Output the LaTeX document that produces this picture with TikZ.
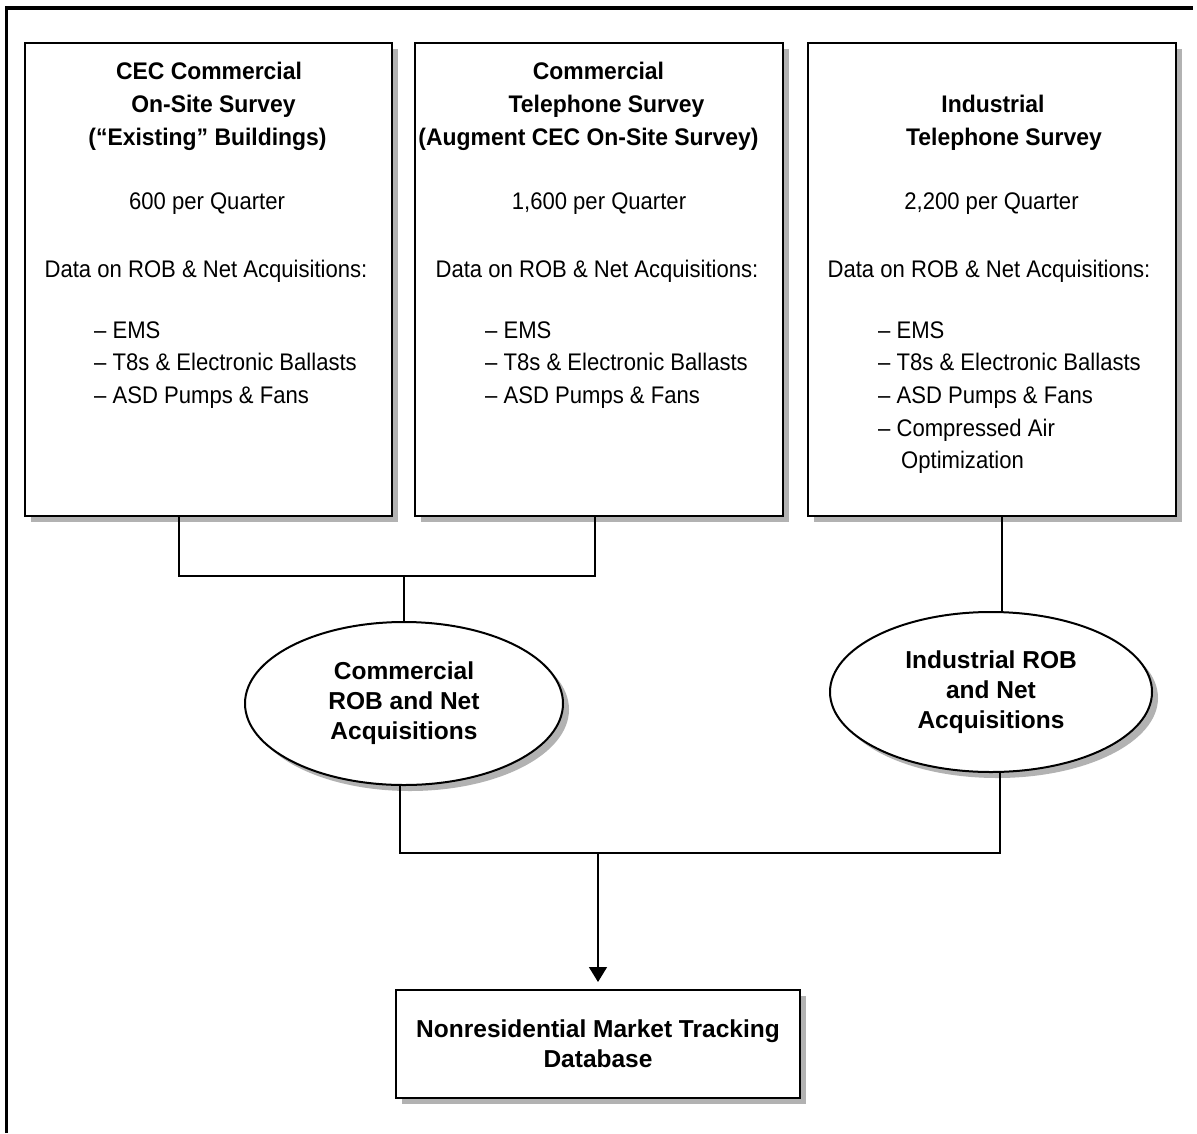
\documentclass[tikz,border=0pt]{standalone}
\usepackage{fontspec}
\setmainfont{Liberation Sans}
\newfontfamily\narrowsf{Liberation Sans}[FakeStretch=0.92]
\newfontfamily\narrowbf{Liberation Sans Bold}[FakeStretch=0.955]
\usetikzlibrary{shapes.geometric,shadows,arrows.meta,calc}

\begin{document}
\begin{tikzpicture}[x=1pt,y=-1pt,
  boxshadow/.style={drop shadow={shadow xshift=6pt,shadow yshift=-6pt,fill=black!30,opacity=1}},
  survey/.style={rectangle,draw=black,line width=2pt,fill=white,inner sep=0pt,
    minimum width=#1,minimum height=473pt,boxshadow},
  oval/.style={ellipse,draw=black,line width=2pt,fill=white,inner sep=0pt,align=center,
    font=\bfseries\fontsize{24.5}{30}\selectfont,boxshadow},
  dbbox/.style={rectangle,draw=black,line width=2pt,fill=white,inner sep=0pt,align=center,
    minimum width=404pt,minimum height=108pt,
    font=\bfseries\fontsize{24.5}{30}\selectfont,boxshadow},
  hd/.style={anchor=base,inner sep=0pt,font=\narrowbf\fontsize{24}{28}\selectfont},
  tx/.style={anchor=base,inner sep=0pt,font=\narrowsf\fontsize{24}{28}\selectfont},
  li/.style={anchor=base west,inner sep=0pt,font=\narrowsf\fontsize{24}{28}\selectfont},
  conn/.style={draw=black,line width=1.5pt},
]
\useasboundingbox (0,0) rectangle (1197,1133);
\fill[white] (0,0) rectangle (1197,1133);

% page frame (top and left rules)
\draw[line width=3.5pt] (6.5,1133) -- (6.5,8) -- (1193,8);

% survey boxes
\node[survey=367pt] (box1) at (208.5,279.5) {};
\node[survey=368pt] (box2) at (599,279.5) {};
\node[survey=368pt] (box3) at (992,279.5) {};

% box 1 text
\node[hd] (b1h1) at (209,79) {CEC Commercial};
\node[hd] (b1h2) at (213.5,112) {On-Site Survey};
\node[hd] (b1h3) at (207.5,145) {(“Existing” Buildings)};
\node[tx] (b1n) at (207,209) {600 per Quarter};
\node[tx] (b1d) at (206,277) {Data on ROB \& Net Acquisitions:};
\node[li] (b1i1) at (94,338) {– EMS};
\node[li] (b1i2) at (94,370) {– T8s \& Electronic Ballasts};
\node[li] (b1i3) at (94,403) {– ASD Pumps \& Fans};

% box 2 text
\node[hd] (b2h1) at (598.5,79) {Commercial};
\node[hd] (b2h2) at (606.5,112) {Telephone Survey};
\node[hd] (b2h3) at (588.5,145) {(Augment CEC On-Site Survey)};
\node[tx] (b2n) at (599,209) {1,600 per Quarter};
\node[tx] (b2d) at (597,277) {Data on ROB \& Net Acquisitions:};
\node[li] (b2i1) at (485,338) {– EMS};
\node[li] (b2i2) at (485,370) {– T8s \& Electronic Ballasts};
\node[li] (b2i3) at (485,403) {– ASD Pumps \& Fans};

% box 3 text
\node[hd] (b3h1) at (993,112) {Industrial};
\node[hd] (b3h2) at (1004,145) {Telephone Survey};
\node[tx] (b3n) at (991.5,209) {2,200 per Quarter};
\node[tx] (b3d) at (989,277) {Data on ROB \& Net Acquisitions:};
\node[li] (b3i1) at (878,338) {– EMS};
\node[li] (b3i2) at (878,370) {– T8s \& Electronic Ballasts};
\node[li] (b3i3) at (878,403) {– ASD Pumps \& Fans};
\node[li] (b3i4) at (878,436) {– Compressed Air};
\node[li] (b3i5) at (901,468) {Optimization};

% aggregation ellipses
\node[oval,minimum width=318pt,minimum height=163pt] (e1) at (404,703.5)
  {Commercial\\ROB and Net\\Acquisitions};
\node[oval,minimum width=322pt,minimum height=160pt] (e2) at (991,692)
  {Industrial ROB\\and Net\\Acquisitions};

% database box
\node[dbbox] (db) at (598,1044) {Nonresidential Market Tracking\\Database};

% connectors
\coordinate (fork) at (404,576);
\coordinate (join) at (598,853);
\draw[conn] ([xshift=-29.5pt]box1.south) |- (fork) -| ([xshift=-4pt]box2.south);
\draw[conn] (fork) -- (e1.north);
\draw[conn] ([xshift=10pt]box3.south) -- ([xshift=10pt]box3.south |- e2.north);
\draw[conn] ([xshift=-4pt]e1.south) |- (join) -| ([xshift=9pt]e2.south);
\draw[conn,-{Triangle[width=18pt,length=15pt]}] (join) -- ([yshift=7pt]db.north);
\end{tikzpicture}
\end{document}
